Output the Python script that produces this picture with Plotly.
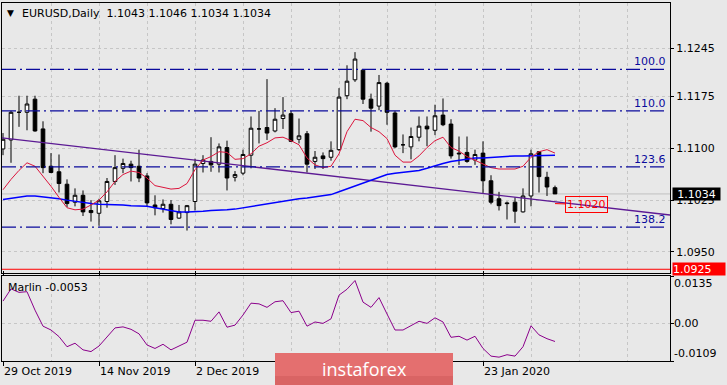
import plotly.graph_objects as go

# ---------------- data ----------------
bars = list(range(70))
opens = [1.1099, 1.1112, 1.1152, 1.1152, 1.1171, 1.1128, 1.1074, 1.1066, 1.1048, 1.1022,
         1.1032, 1.1010, 1.1006, 1.1023, 1.1052, 1.1071, 1.1077, 1.1074, 1.1060, 1.1018,
         1.1013, 1.1019, 1.0999, 1.1007, 1.1023, 1.1078, 1.1081, 1.1077, 1.1101, 1.1058,
         1.1064, 1.1090, 1.1128, 1.1130, 1.1125, 1.1143, 1.1150, 1.1113, 1.1121, 1.1081,
         1.1089, 1.1087, 1.1098, 1.1176, 1.1199, 1.1213, 1.1171, 1.1161, 1.1194, 1.1151,
         1.1105, 1.1102, 1.1116, 1.1132, 1.1126, 1.1148, 1.1135, 1.1093, 1.1094, 1.1083,
         1.1093, 1.1053, 1.1027, 1.1021, 1.1022, 1.1008, 1.1031, 1.1095, 1.1058, 1.1043]
highs = [1.1122, 1.1154, 1.1176, 1.1176, 1.1176, 1.1139, 1.1093, 1.1091, 1.1055, 1.1042,
         1.1039, 1.1025, 1.1027, 1.1057, 1.1090, 1.1085, 1.1082, 1.1098, 1.1064, 1.1032,
         1.1026, 1.1025, 1.1018, 1.1018, 1.1085, 1.1090, 1.1116, 1.1107, 1.1111, 1.1067,
         1.1098, 1.1146, 1.1154, 1.1200, 1.1158, 1.1174, 1.1154, 1.1143, 1.1125, 1.1096,
         1.1094, 1.1110, 1.1187, 1.1220, 1.1239, 1.1214, 1.1179, 1.1206, 1.1196, 1.1154,
         1.1120, 1.1130, 1.1146, 1.1146, 1.1163, 1.1172, 1.1142, 1.1117, 1.1117, 1.1098,
         1.1110, 1.1061, 1.1037, 1.1023, 1.1029, 1.1042, 1.1098, 1.1096, 1.1066, 1.1046]
lows = [1.1090, 1.1079, 1.1131, 1.1126, 1.1124, 1.1064, 1.1064, 1.1036, 1.1015, 1.1016,
        1.1002, 1.0994, 1.0988, 1.1014, 1.1047, 1.1064, 1.1052, 1.1051, 1.1016, 1.1003,
        1.1007, 1.0990, 1.0998, 1.0981, 1.1010, 1.1065, 1.1066, 1.1065, 1.1039, 1.1052,
        1.1061, 1.1071, 1.1107, 1.1112, 1.1123, 1.1128, 1.1110, 1.1107, 1.1065, 1.1070,
        1.1070, 1.1082, 1.1096, 1.1171, 1.1196, 1.1164, 1.1124, 1.1155, 1.1134, 1.1100,
        1.1093, 1.1084, 1.1110, 1.1103, 1.1119, 1.1132, 1.1085, 1.1076, 1.1079, 1.1076,
        1.1035, 1.1019, 1.1010, 1.0997, 1.0992, 1.1007, 1.1016, 1.1036, 1.1031, 1.1034]
closes = [1.1113, 1.1152, 1.1152, 1.1164, 1.1125, 1.1072, 1.1065, 1.1049, 1.1020, 1.1032,
          1.1008, 1.1007, 1.1024, 1.1052, 1.1072, 1.1078, 1.1072, 1.1057, 1.1021, 1.1014,
          1.1019, 1.0997, 1.1008, 1.1017, 1.1077, 1.1083, 1.1076, 1.1102, 1.1057, 1.1062,
          1.1091, 1.1129, 1.1128, 1.1122, 1.1142, 1.1148, 1.1110, 1.1118, 1.1077, 1.1087,
          1.1085, 1.1097, 1.1174, 1.1197, 1.1229, 1.1171, 1.1158, 1.1195, 1.1152, 1.1102,
          1.1105, 1.1117, 1.1132, 1.1128, 1.1147, 1.1134, 1.1089, 1.1092, 1.1081, 1.1091,
          1.1053, 1.1022, 1.1017, 1.1020, 1.1009, 1.1031, 1.1092, 1.1059, 1.1044, 1.1034]

red_ma = [1.1040, 1.1055, 1.1068, 1.1079, 1.1074, 1.1060, 1.1045, 1.1029, 1.1014, 1.1011,
          1.1012, 1.1018, 1.1025, 1.1037, 1.1052, 1.1062, 1.1067, 1.1065, 1.1057, 1.1046,
          1.1043, 1.1041, 1.1042, 1.1049, 1.1069, 1.1083, 1.1088, 1.1095, 1.1094, 1.1084,
          1.1085, 1.1092, 1.1103, 1.1108, 1.1115, 1.1116, 1.1111, 1.1105, 1.1086, 1.1076,
          1.1072, 1.1074, 1.1092, 1.1124, 1.1142, 1.1140, 1.1130, 1.1124, 1.1114, 1.1090,
          1.1080, 1.1080, 1.1089, 1.1101, 1.1111, 1.1116, 1.1101, 1.1096, 1.1088, 1.1083,
          1.1077, 1.1072, 1.1070, 1.1070, 1.1070, 1.1074, 1.1087, 1.1095, 1.1098, 1.1093]
blue_ma = [1.1026, 1.1028, 1.1030, 1.1031, 1.1031, 1.1030, 1.1029, 1.1027, 1.1025, 1.1023,
           1.1021, 1.1020, 1.1019, 1.1019, 1.1018, 1.1018, 1.1017, 1.1017, 1.1016, 1.1014,
           1.1012, 1.1010, 1.1008, 1.1008, 1.1008, 1.1009, 1.1010, 1.1010, 1.1011, 1.1012,
           1.1014, 1.1016, 1.1018, 1.1020, 1.1022, 1.1024, 1.1025, 1.1027, 1.1028, 1.1030,
           1.1031, 1.1033, 1.1037, 1.1041, 1.1046, 1.1049, 1.1053, 1.1057, 1.1062, 1.1064,
           1.1065, 1.1066, 1.1068, 1.1071, 1.1075, 1.1078, 1.1081, 1.1083, 1.1085, 1.1086,
           1.1086, 1.1087, 1.1087, 1.1088, 1.1089, 1.1089, 1.1089, 1.1090, 1.1090, 1.1090]
marlin = [0.0063, 0.0098, 0.0088, 0.0090, 0.0037, -0.0009, -0.0020, -0.0039, -0.0068, -0.0058,
          -0.0077, -0.0082, -0.0066, -0.0039, -0.0014, -0.0011, -0.0018, -0.0031, -0.0063, -0.0073,
          -0.0061, -0.0077, -0.0066, -0.0055, 0.0008, 0.0008, 0.0005, 0.0032, -0.0012, -0.0006,
          0.0023, 0.0057, 0.0055, 0.0045, 0.0061, 0.0064, 0.0030, 0.0034, -0.0009, 0.0003,
          -0.0001, 0.0012, 0.0080, 0.0097, 0.0122, 0.0060, 0.0045, 0.0073, 0.0026, -0.0020,
          -0.0020, -0.0008, 0.0005, -0.0001, 0.0015, 0.0003, -0.0041, -0.0038, -0.0049, -0.0038,
          -0.0073, -0.0095, -0.0098, -0.0091, -0.0095, -0.0068, -0.0008, -0.0034, -0.0045, -0.0053]

trend_x = [-0.125, 83.375]
trend_y = [1.1115, 1.10035]
fib_levels = [1.1214, 1.1154, 1.1073, 1.0986]
fib_labels = ["100.0", "110.0", "123.6", "138.2"]
price_ticks = [1.1245, 1.1175, 1.1100, 1.1025, 1.0950]
marlin_ticks = [0.0135, 0.0, -0.0109]
date_tick_bars = [0, 12, 24, 60]
date_tick_labels = ["29 Oct 2019", "14 Nov 2019", "2 Dec 2019", "23 Jan 2020"]
alert_price = 1.0925
label_price = 1.1020
label_bar = 69

# ---------------- style ----------------
BG = "#e8e8e8"
GRID = "#c6c6c6"
FONT = "DejaVu Sans"
NAVY = "#0a0a9c"

fig = go.Figure()

fig.add_trace(go.Candlestick(
    x=bars, open=opens, high=highs, low=lows, close=closes,
    increasing=dict(line=dict(color="black", width=1), fillcolor="white"),
    decreasing=dict(line=dict(color="black", width=1), fillcolor="black"),
    whiskerwidth=0, xaxis="x", yaxis="y", hoverinfo="skip"))

fig.add_trace(go.Scatter(x=trend_x, y=trend_y, mode="lines",
                         line=dict(color="#5c1a94", width=1.3), xaxis="x", yaxis="y"))
fig.add_trace(go.Scatter(x=bars, y=blue_ma, mode="lines",
                         line=dict(color="#0000ff", width=1.5), xaxis="x", yaxis="y"))
fig.add_trace(go.Scatter(x=bars, y=red_ma, mode="lines",
                         line=dict(color="#dc143c", width=1), xaxis="x", yaxis="y"))
fig.add_trace(go.Scatter(x=bars, y=marlin, mode="lines",
                         line=dict(color="#8b008b", width=1), xaxis="x", yaxis="y2"))

H = 385 - 3 - 24
main_bottom = (361 - 273) / H
sub_top = (361 - 276) / H

fig.update_layout(
    width=727, height=385,
    margin=dict(l=2, r=57, t=3, b=24, autoexpand=False),
    paper_bgcolor=BG, plot_bgcolor=BG, showlegend=False,
    font=dict(family=FONT, size=11, color="black"),
    boxgap=0.35,
    xaxis=dict(
        range=[-0.125, 83.375], anchor="y2", domain=[0, 1], automargin=False,
        tickmode="array", tickvals=date_tick_bars, ticktext=date_tick_labels,
        ticks="outside", ticklen=4, tickcolor="black", ticklabelposition="outside right",
        tickfont=dict(family=FONT, size=11, color="black"),
        showline=True, linecolor="black", linewidth=1, mirror="all",
        showgrid=True, gridcolor=GRID, griddash="3px,3px", gridwidth=1,
        minor=dict(tick0=0, dtick=6, showgrid=True, gridcolor=GRID, griddash="3px,3px", ticks=""),
        zeroline=False, rangeslider=dict(visible=False), fixedrange=True),
    yaxis=dict(
        domain=[main_bottom, 1], range=[1.091962, 1.131008], side="right", anchor="x",
        automargin=False,
        tickmode="array", tickvals=price_ticks, ticktext=[f"{v:.4f}" for v in price_ticks],
        ticks="outside", ticklen=3, tickcolor="black",
        tickfont=dict(family=FONT, size=11, color="black"),
        showline=True, linecolor="black", linewidth=1, mirror=True,
        showgrid=True, gridcolor=GRID, griddash="3px,3px", zeroline=False, fixedrange=True),
    yaxis2=dict(
        domain=[0, sub_top], range=[-0.0109, 0.0135], side="right", anchor="x",
        automargin=False,
        tickmode="array", tickvals=marlin_ticks, showticklabels=False,
        ticks="outside", ticklen=3, tickcolor="black",
        showline=True, linecolor="black", linewidth=1, mirror=True,
        showgrid=True, gridcolor=GRID, griddash="3px,3px", zeroline=False, fixedrange=True),
)

shapes = []
for lvl in fib_levels:
    shapes.append(dict(type="line", xref="paper", yref="y", x0=0, x1=0.997, y0=lvl, y1=lvl,
                       line=dict(color=NAVY, width=1.2, dash="14px,4px,2px,4px"), layer="above"))
shapes.append(dict(type="line", xref="paper", yref="y", x0=0, x1=1, y0=closes[-1], y1=closes[-1],
                   line=dict(color="#c0c0c0", width=1), layer="between"))
shapes.append(dict(type="line", xref="paper", yref="y", x0=0, x1=1, y0=alert_price, y1=alert_price,
                   line=dict(color="#ff0000", width=1), layer="above"))
# instaforex logo block
shapes.append(dict(type="rect", xref="paper", yref="paper", x0=(275 - 2) / 668, x1=(453 - 2) / 668,
                   y0=-24 / H, y1=(361 - 353) / H, fillcolor="#e46f6f", line=dict(width=0), layer="above"))
shapes.append(dict(type="rect", xref="paper", yref="paper", x0=(275 - 2) / 668, x1=(453 - 2) / 668,
                   y0=-24 / H, y1=-15 / H, fillcolor="#d96464", line=dict(width=0), layer="above"))
fig.update_layout(shapes=shapes)

ann = []
# title
ann.append(dict(xref="paper", yref="paper", x=0, y=1, xanchor="center", yanchor="middle",
                xshift=8.5, yshift=-10, text="▼", showarrow=False,
                font=dict(family=FONT, size=9, color="black")))
ann.append(dict(xref="paper", yref="paper", x=0, y=1, xanchor="left", yanchor="middle",
                xshift=18, yshift=-10, showarrow=False,
                text=f"EURUSD,Daily  {opens[-1]:.4f} {highs[-1]:.4f} {lows[-1]:.4f} {closes[-1]:.4f}",
                font=dict(family=FONT, size=11, color="black")))
# fib labels
for lvl, lab in zip(fib_levels, fib_labels):
    ann.append(dict(xref="paper", yref="y", x=0.997, y=lvl, xanchor="right", yanchor="bottom",
                    yshift=-1, text=lab, showarrow=False, font=dict(family=FONT, size=11, color=NAVY)))
# price label boxes on the axis
ann.append(dict(xref="paper", yref="y", x=1, y=closes[-1], xanchor="left", yanchor="middle",
                xshift=2, text=f"{closes[-1]:.4f}", showarrow=False, bgcolor="black",
                width=47, height=12, borderpad=0, align="center",
                font=dict(family=FONT, size=11, color="white")))
ann.append(dict(xref="paper", yref="y", x=1, y=alert_price, xanchor="left", yanchor="middle",
                xshift=2, text=f"{alert_price:.4f}", showarrow=False, bgcolor="#ff0000",
                width=52, height=12, borderpad=0, align="left",
                font=dict(family=FONT, size=11, color="white")))
# 1.1020 price label with connector
ann.append(dict(xref="x", yref="y", x=label_bar, y=label_price, ax=31, ay=1,
                text=f"{label_price:.4f}", showarrow=True, arrowhead=0, arrowwidth=1,
                arrowcolor="#ff0000", standoff=0, bordercolor="#ff0000", borderwidth=1, borderpad=1,
                font=dict(family=FONT, size=11, color="#ff0000")))
# marlin labels
ann.append(dict(xref="paper", yref="y2 domain", x=0, y=1, xanchor="left", yanchor="middle",
                xshift=4, yshift=-11, text=f"Marlin {marlin[-1]:.4f}", showarrow=False,
                font=dict(family=FONT, size=11, color="black")))
marlin_shift = [-7, 0, 8]
for v, s in zip(marlin_ticks, marlin_shift):
    txt = "0.00" if v == 0 else f"{v:.4f}"
    ann.append(dict(xref="paper", yref="y2", x=1, y=v, xanchor="left", yanchor="middle",
                    xshift=2, yshift=s, text=txt, showarrow=False,
                    font=dict(family=FONT, size=11, color="black")))
# logo text
ann.append(dict(xref="paper", yref="paper", x=(364 - 2) / 668, y=(361 - 369) / H,
                xanchor="center", yanchor="middle", text="instaforex", showarrow=False,
                font=dict(family="Open Sans", size=18, color="white")))
fig.update_layout(annotations=ann)

fig.write_html("out.html", config={"displayModeBar": False},
               post_script="document.body.style.margin='0';document.body.style.overflow='hidden';")
